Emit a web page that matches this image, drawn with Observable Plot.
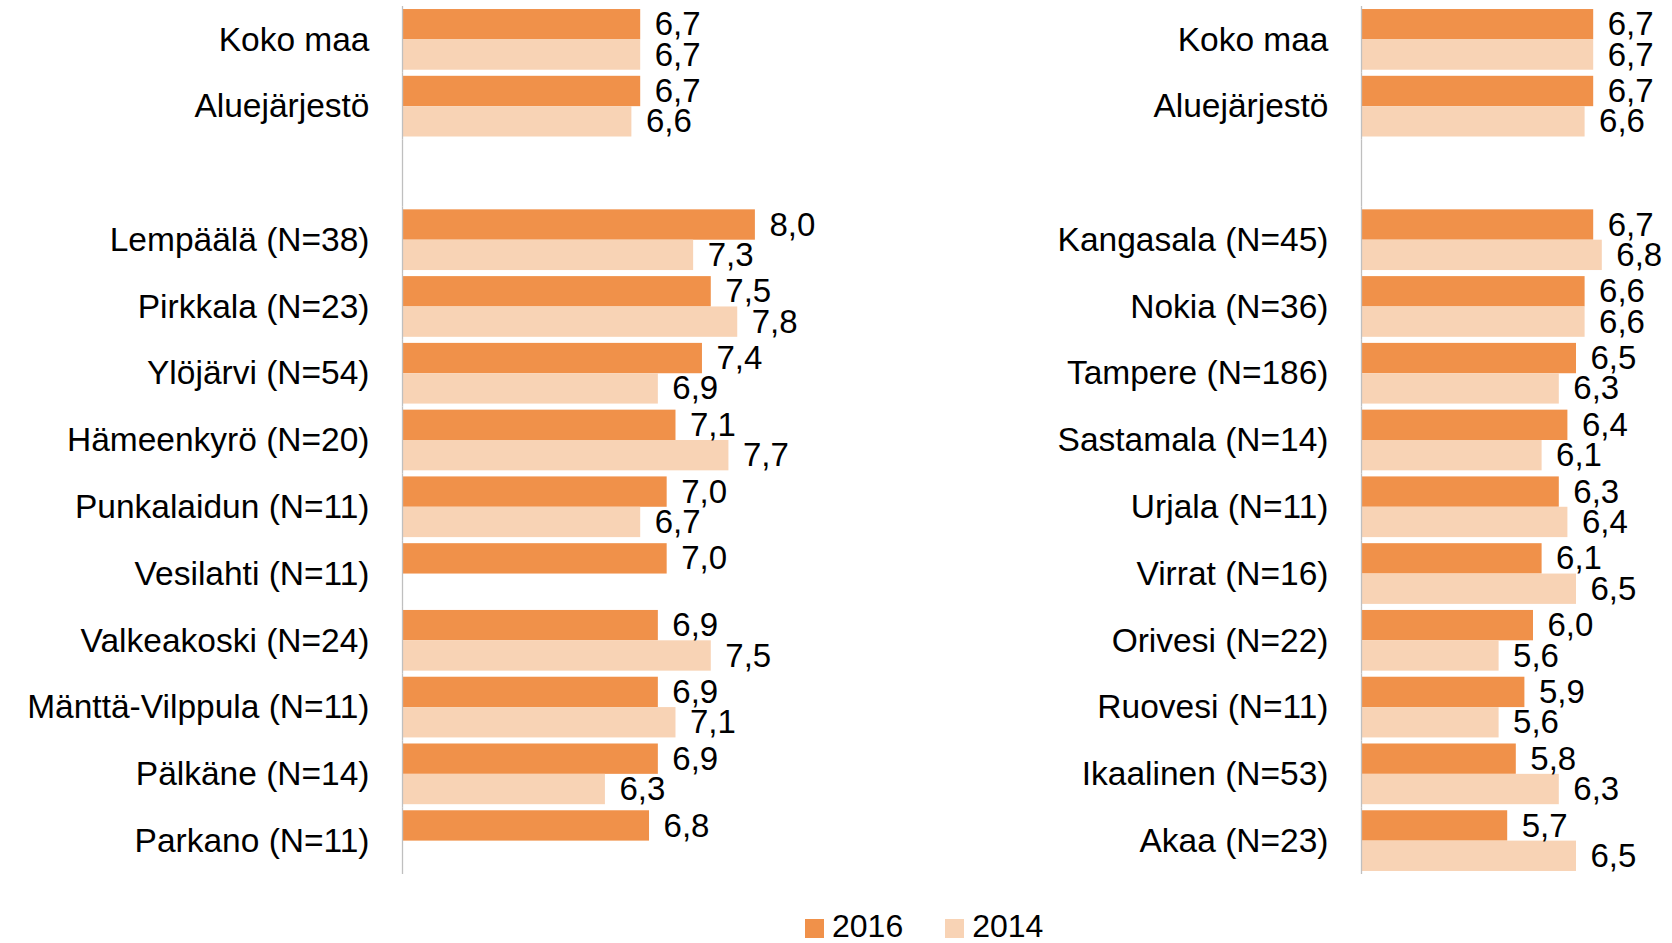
<!DOCTYPE html>
<html><head><meta charset="utf-8">
<script src="https://cdn.jsdelivr.net/npm/d3@7"></script>
<script src="https://cdn.jsdelivr.net/npm/@observablehq/plot@0.6"></script>
<style>
body{margin:0;background:#fff;font-family:"Liberation Sans",Arial,sans-serif;}
#wrap{position:relative;width:1672px;height:943px;overflow:hidden;background:#fff}
.panel{position:absolute;top:0}
#left{left:0}
#right{left:836px}
.panel svg g[aria-label^="fy-axis"] text{font-size:33.5px;fill:#000}
#legend{position:absolute;left:805px;top:910px;display:flex;align-items:center;font-size:32px;line-height:32px;color:#000;white-space:nowrap}
#legend .sw{display:inline-block;width:19px;height:19px;position:relative;top:2px;margin-right:8px}
#legend .item{display:flex;align-items:center;margin-right:42px}
</style>
</head><body>
<div id="wrap">
  <div id="left" class="panel"></div>
  <div id="right" class="panel"></div>
  <div id="legend"></div>
</div>
<script>
// Series / categories
const years = ["2016", "2014"];
const colors = ["#F0914A", "#F8D3B5"];

const leftCategories = ["Koko maa", "Aluejärjestö", "", "Lempäälä (N=38)", "Pirkkala (N=23)", "Ylöjärvi (N=54)",
  "Hämeenkyrö (N=20)", "Punkalaidun (N=11)", "Vesilahti (N=11)", "Valkeakoski (N=24)",
  "Mänttä-Vilppula (N=11)", "Pälkäne (N=14)", "Parkano (N=11)"];
const left2016 = [6.7, 6.7, null, 8.0, 7.5, 7.4, 7.1, 7.0, 7.0, 6.9, 6.9, 6.9, 6.8];
const left2014 = [6.7, 6.6, null, 7.3, 7.8, 6.9, 7.7, 6.7, null, 7.5, 7.1, 6.3, null];

const rightCategories = ["Koko maa", "Aluejärjestö", "", "Kangasala (N=45)", "Nokia (N=36)", "Tampere (N=186)",
  "Sastamala (N=14)", "Urjala (N=11)", "Virrat (N=16)", "Orivesi (N=22)", "Ruovesi (N=11)",
  "Ikaalinen (N=53)", "Akaa (N=23)"];
const right2016 = [6.7, 6.7, null, 6.7, 6.6, 6.5, 6.4, 6.3, 6.1, 6.0, 5.9, 5.8, 5.7];
const right2014 = [6.7, 6.6, null, 6.8, 6.6, 6.3, 6.1, 6.4, 6.5, 5.6, 5.6, 6.3, 6.5];

const xMin = 4;
const fmt = v => v == null ? null : d3.format(".1f")(v).replace(".", ",");

function panel(cats, v16, v14, marginLeft, xMax, marginRight) {
  const rows = [];
  cats.forEach((c, i) => {
    rows.push({cat: c, year: years[0], value: v16[i]});
    rows.push({cat: c, year: years[1], value: v14[i]});
  });
  return Plot.plot({
    width: 836, height: 880,
    marginTop: 6, marginBottom: 6, marginLeft, marginRight,
    style: {fontFamily: "Liberation Sans, Arial, sans-serif", fontSize: "33.5px", color: "#000", background: "transparent", overflow: "visible"},
    facet: {data: rows, y: "cat", marginTop: 0, marginBottom: 0},
    fy: {domain: cats, padding: 0, round: false, label: null, axis: "left", tickSize: 0, tickPadding: 33},
    y: {domain: years, paddingInner: 0, paddingOuter: 0.1, round: false, axis: null},
    x: {domain: [xMin, xMax], axis: null},
    color: {domain: years, range: colors},
    marks: [
      Plot.barX(rows, {x1: xMin, x2: "value", y: "year", fill: "year"}),
      Plot.ruleX([xMin], {stroke: "#bfbfbf", strokeWidth: 1.3}),
      Plot.text(rows, {x: "value", y: "year", text: d => fmt(d.value), textAnchor: "start", dx: 14, fontSize: 33, fill: "#000"})
    ]
  });
}

document.getElementById("left").append(panel(leftCategories, left2016, left2014, 402, 8.5, 37));
document.getElementById("right").append(panel(rightCategories, right2016, right2014, 525, 7, 53));

const legend = document.getElementById("legend");
years.forEach((y, i) => {
  const item = document.createElement("span");
  item.className = "item";
  const sw = document.createElement("span");
  sw.className = "sw";
  sw.style.background = colors[i];
  item.append(sw, document.createTextNode(y));
  legend.append(item);
});
</script>
</body></html>
